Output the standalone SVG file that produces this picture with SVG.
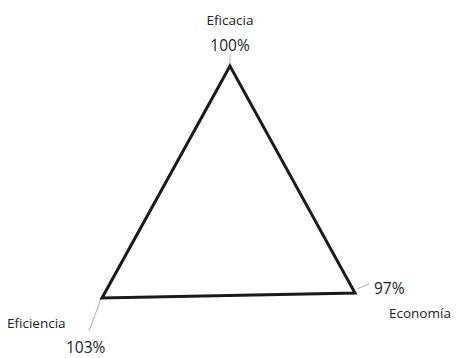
<svg xmlns="http://www.w3.org/2000/svg" width="456" height="358" viewBox="0 0 456 358">
<style>
.lbl{font-family:"Open Sans","Liberation Sans",sans-serif;fill:#222;}
.s{font-size:13.5px;}
.b{font-size:15.5px;}
.lead{stroke:#999;stroke-width:0.8;fill:none;}
</style>
<rect width="456" height="358" fill="#fff"/>
<g id="connectors">
<line class="lead" x1="230" y1="54" x2="230" y2="66"/>
<line class="lead" x1="101" y1="299" x2="89" y2="331"/>
<line class="lead" x1="357" y1="289" x2="369" y2="284"/>
</g>
<g id="triangle">
<polygon points="230,66 102,298 355,293" fill="none" stroke="#1a1a1a" stroke-width="3" stroke-linejoin="miter"/>
</g>
<g id="node-eficacia">
<text class="lbl s" x="230" y="25" text-anchor="middle">Eficacia</text>
<text class="lbl b" x="230" y="51" text-anchor="middle">100%</text>
</g>
<g id="node-eficiencia">
<text class="lbl s" x="7" y="328">Eficiencia</text>
<text class="lbl b" x="66" y="353">103%</text>
</g>
<g id="node-economia">
<text class="lbl b" x="374" y="294">97%</text>
<text class="lbl s" x="389" y="318">Economía</text>
</g>
</svg>
